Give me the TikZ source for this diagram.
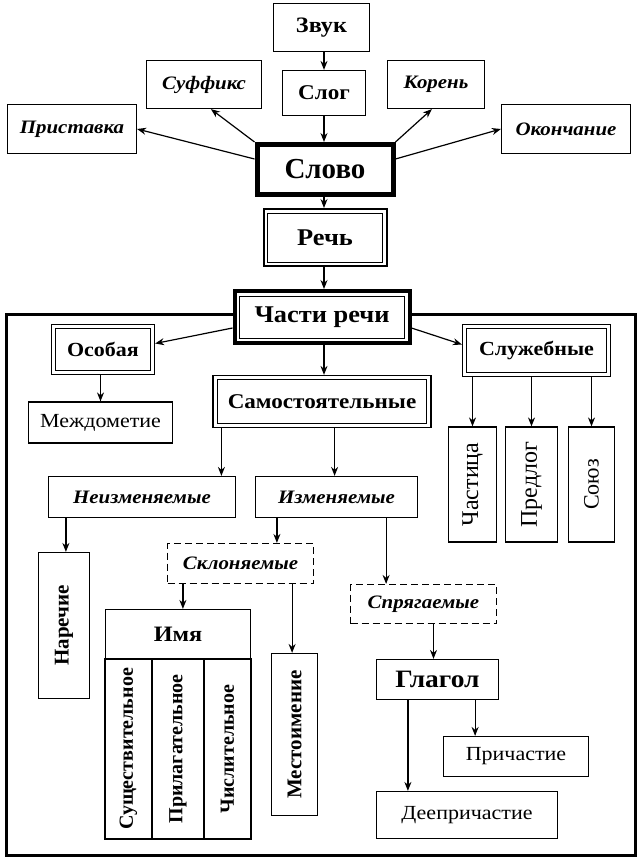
\documentclass[tikz,border=0pt]{standalone}
\usepackage{fontspec}
\setmainfont{Liberation Serif}[FakeStretch=1.1]
\newfontfamily\vfont{Liberation Serif}
\usetikzlibrary{arrows.meta,calc}
\begin{document}
\begin{tikzpicture}[x=1pt,y=1pt,
  box/.style={draw, line width=1.2pt, inner sep=0pt, align=center, fill=white},
  bx/.style={font=\bfseries\fontsize{20}{22}\selectfont},
  bi/.style={font=\bfseries\itshape\fontsize{19}{21}\selectfont},
  rg/.style={font=\fontsize{20}{22}\selectfont},
  vb/.style={font=\vfont\bfseries\fontsize{20}{22}\selectfont, rotate=90},
  vr/.style={font=\vfont\fontsize{24}{26}\selectfont, rotate=90},
  sz/.style 2 args={minimum width=#1, minimum height=#2},
  dsh/.style={dash pattern=on 7pt off 4pt},
  inner/.style={line width=0.9pt},
  arr/.style={-{Stealth[length=9pt,width=7pt]}, line width=1.2pt}
]
\useasboundingbox (0,0) rectangle (643,-867);
% frame
\draw[line width=3pt] (6.5,-314.5) rectangle (635.5,-855.5);

% top part
\node[box,font=\bfseries\fontsize{22}{24}\selectfont,sz={96}{48}] (zvuk) at (321.5,-27.5) {Звук};
\node[box,font=\bfseries\fontsize{21}{23}\selectfont,sz={83}{45}] (slog) at (324,-93) {Слог};
\node[box,bi,sz={115}{48}] (suff) at (204,-84.5) {Суффикс};
\node[box,bi,sz={97}{48}] (koren) at (436,-84.5) {Корень};
\node[box,bi,sz={129}{49}] (prist) at (72,-129) {Приставка};
\node[box,bi,sz={129}{49}] (okon) at (566,-129) {Окончание};
\node[box,line width=5pt,font=\vfont\bfseries\fontsize{29}{31}\selectfont,sz={136}{50}] (slovo) at (325,-169.5) {Слово};

\node[box,line width=2pt,font=\bfseries\fontsize{24}{26}\selectfont,sz={123}{57}] (rech) at (325,-237.5) {Речь};
\draw[inner] ([shift={(5,-5)}]rech.north west) rectangle ([shift={(-5,5)}]rech.south east);

\node[box,line width=4pt,font=\bfseries\fontsize{24}{26}\selectfont,sz={175}{52}] (chasti) at (322,-317) {Части речи};
\draw[inner] ([shift={(7,-7)}]chasti.north west) rectangle ([shift={(-7,7)}]chasti.south east);

% second level
\node[box,bx,sz={103}{50}] (osob) at (103,-349.5) {Особая};
\draw[inner] ([shift={(5,-5)}]osob.north west) rectangle ([shift={(-5,5)}]osob.south east);
\node[box,bx,sz={148}{52}] (sluzh) at (536.5,-350.5) {Служебные};
\draw[inner] ([shift={(5,-5)}]sluzh.north west) rectangle ([shift={(-5,5)}]sluzh.south east);
\node[box,font=\bfseries\fontsize{21}{23}\selectfont,sz={218}{52}] (samost) at (322,-401.5) {Самостоятельные};
\draw[inner] ([shift={(5,-5)}]samost.north west) rectangle ([shift={(-5,5)}]samost.south east);

\node[box,rg,sz={144}{41}] (mezhd) at (100.5,-422.5) {Междометие};

\node[box,vr,sz={115}{48}] (chast) at (472.5,-484.5) {Частица};
\node[box,vr,sz={115}{52}] (predl) at (531.5,-484.5) {Предлог};
\node[box,vr,font=\vfont\fontsize{22}{24}\selectfont,sz={115}{46}] (soyuz) at (591.5,-484.5) {Союз};

\node[box,bi,sz={187}{41}] (neizm) at (142,-497) {Неизменяемые};
\node[box,bi,sz={162}{41}] (izm) at (336.5,-497) {Изменяемые};

\node[box,vb,font=\vfont\bfseries\fontsize{21}{23}\selectfont,sz={146}{51}] (narech) at (64,-625.5) {Наречие};

\node[box,bi,dsh,sz={146}{40}] (sklon) at (240.5,-563.5) {Склоняемые};
\node[box,bi,dsh,sz={146}{39}] (spryag) at (423.5,-604) {Спрягаемые};

\node[box,font=\bfseries\fontsize{22}{24}\selectfont,sz={145}{49}] (imya) at (178,-634) {Имя};
\node[box,vb,sz={180}{47}] (sush) at (128.5,-749) {Существительное};
\node[box,vb,sz={180}{52}] (pril) at (178,-749) {Прилагательное};
\node[box,vb,sz={180}{47}] (chisl) at (227.5,-749) {Числительное};

\node[box,vb,font=\vfont\bfseries\fontsize{21}{23}\selectfont,sz={162}{46}] (mest) at (294.5,-734.5) {Местоимение};

\node[box,font=\bfseries\fontsize{25}{27}\selectfont,sz={122}{40}] (glagol) at (437.5,-679.5) {Глагол};
\node[box,rg,sz={145}{40}] (prich) at (516,-756.5) {Причастие};
\node[box,rg,sz={181}{47}] (deepr) at (467,-815) {Деепричастие};

% arrows top
\draw[arr] (zvuk.south -| slog.north) -- (slog.north);
\draw[arr] (slog) -- (slovo.north -| slog.south);
\draw[arr] (slovo.north west) -- ([xshift=65]suff.south west);
\draw[arr] ([yshift=-17]slovo.north west) -- (prist.east);
\draw[arr] (slovo.north east) -- ([xshift=45]koren.south west);
\draw[arr] ([yshift=-17]slovo.north east) -- (okon.west);
\draw[arr] (slovo.south -| slog.south) -- (rech.north -| slog.south);
\draw[arr] (rech.south -| slog.south) -- (chasti.north -| slog.south);

% arrows middle
\draw[arr] ([yshift=-39]chasti.north west) -- ([yshift=6]osob.east);
\draw[arr] ([yshift=-39]chasti.north east) -- ([yshift=6]sluzh.west);
\draw[arr] (chasti.south -| slog.south) -- (samost.north -| slog.south);
\draw[arr] (osob.south -| mezhd.north) -- (mezhd.north);
\draw[arr] (chast.east |- sluzh.south) -- (chast.east);
\draw[arr] (predl.east |- sluzh.south) -- (predl.east);
\draw[arr] (soyuz.east |- sluzh.south) -- (soyuz.east);
\draw[arr] ([xshift=9]samost.south west) -- ([xshift=9]samost.south west |- neizm.north);
\draw[arr] ([xshift=-97]samost.south east) -- ([xshift=-97]samost.south east |- izm.north);

% arrows lower
\draw[arr] ([xshift=18]neizm.south west) -- ([xshift=18]neizm.south west |- narech.east);
\draw[arr] ([xshift=22]izm.south west) -- ([xshift=22]izm.south west |- sklon.north);
\draw[arr] ([xshift=-32]izm.south east) -- ([xshift=-32]izm.south east |- spryag.north);
\draw[arr] ([xshift=16]sklon.south west) -- ([xshift=16]sklon.south west |- imya.north);
\draw[arr] ([xshift=-22]sklon.south east) -- ([xshift=-22]sklon.south east |- mest.east);
\draw[arr] ([xshift=10]spryag.south) -- ([xshift=10]spryag.south |- glagol.north);
\draw[arr] ([xshift=32]glagol.south west) -- ([xshift=32]glagol.south west |- deepr.north);
\draw[arr] ([xshift=-24]glagol.south east) -- ([xshift=-24]glagol.south east |- prich.north);
\end{tikzpicture}
\end{document}
